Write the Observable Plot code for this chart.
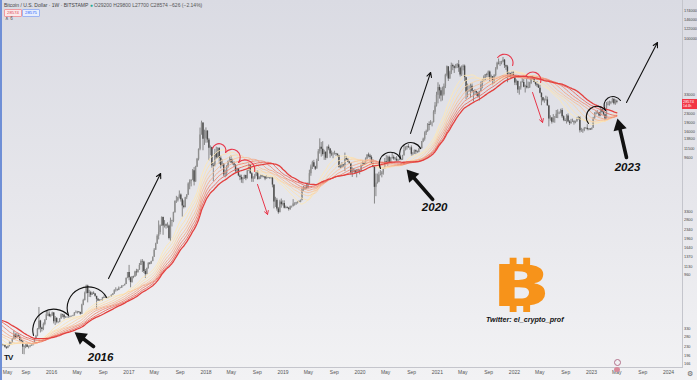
<!DOCTYPE html>
<html>
<head>
<meta charset="utf-8">
<script src="https://cdn.jsdelivr.net/npm/d3@7"></script>
<script src="https://cdn.jsdelivr.net/npm/@observablehq/plot@0.6"></script>
<style>
  html, body { margin: 0; padding: 0; background: #f1f1f3; }
  #wrap { position: relative; width: 697px; height: 380px; overflow: hidden;
          background: linear-gradient(180deg, #dadbe3 0%, #e6e6eb 50%, #f2f2f4 100%);
          font-family: "Liberation Sans", Arial, sans-serif; }
  #wrap::before { content: ""; position: absolute; left: 0; top: 0; bottom: 0; width: 2px; background: #6f8fd6; z-index: 5; }
  .ov { position: absolute; white-space: nowrap; line-height: 1; }
</style>
</head>
<body>
<div id="wrap"></div>
<script>
// ---------- DATA (weekly BTC/USD, Bitstamp, 1W) ----------
const weekStart = "2014-03-03";           // Monday of the first weekly close below
const closes = [
  // 2014
  635,630,585,460,445,420,495,440,435,440,445,530,625,650,590,590,585,635,625,620,595,590,590,500,505,480,
  477,477,410,402,320,378,390,355,325,375,385,375,378,375,350,330,318,275,
  // 2015
  270,210,255,228,220,235,245,275,275,285,260,245,255,223,222,218,234,242,237,240,229,225,233,243,250,270,
  292,275,288,280,262,255,230,228,240,230,232,235,240,245,268,285,325,385,335,325,360,390,435,440,420,430,
  // 2016
  450,380,405,375,375,400,435,430,410,410,410,415,420,420,425,450,450,460,455,440,525,575,660,765,660,670,
  640,665,655,625,590,570,580,575,610,605,608,600,612,615,640,655,700,705,700,730,735,765,770,790,890,1000,
  // 2017
  900,820,920,915,1010,995,1050,1150,1240,1230,1020,960,1080,1200,1180,1240,1350,1550,1750,2040,2200,2500,
  2950,2500,2550,2500,2500,1950,2750,2730,3250,4050,4100,4350,4600,4200,3700,3600,4350,4600,5700,6000,6150,
  7400,5950,8000,9300,11300,15000,19000,13800,13900,
  // 2018
  16200,13600,11550,11750,8200,8100,10400,9600,11500,9500,8200,8450,6850,7000,8000,8900,9250,8650,8500,8250,
  7350,7700,6700,6500,6200,6400,6750,6350,7400,8200,7000,6300,6400,6700,7250,6250,6500,6700,6600,6580,6300,
  6420,6400,6350,6400,5600,4000,4150,3500,3250,4000,3800,3900,
  // 2019
  3550,3600,3550,3450,3650,3650,3850,3850,3950,4000,3980,4150,5100,5100,5300,5250,5750,7000,8000,8700,8000,
  7650,8900,10800,11800,11300,10200,10700,9500,11800,11400,10300,10150,10300,10400,10300,10000,7950,7880,
  8300,8200,9550,9200,8800,8500,7050,7450,7500,7100,7500,7400,7350,
  // 2020
  8150,8700,8350,9350,10100,9900,9650,8500,7950,5350,5800,5900,6800,6900,7100,7700,8900,8750,9700,8700,9450,
  9650,9350,9300,9000,9100,9250,9150,9950,11050,11700,11900,11650,11650,10250,10350,11100,10750,10650,
  11300,11500,13100,13800,15500,16050,18400,18200,19150,19150,23500,26500,32800,
  // 2021
  38200,35800,32300,33100,38900,48600,57400,45200,51200,59000,57500,55800,58200,59800,56200,49000,56600,
  58200,46400,34700,35600,35800,39100,35500,34700,35300,34300,31800,35400,39900,43800,47000,49300,48900,
  51800,45100,47300,43200,48200,54900,61500,60900,61300,63300,65500,58700,57300,49400,50100,46700,50800,47300,
  // 2022
  41800,43100,36300,37900,42400,42200,38400,39100,38000,37800,41300,46800,46400,42200,40400,39500,37700,
  34100,31300,29400,29500,29900,26600,20600,21000,19300,20800,20800,22600,23300,23200,24300,21500,20000,
  19800,21800,19400,18800,19300,19400,19100,19600,20600,21300,16300,16300,16450,17100,17100,16750,16850,16550,
  // 2023
  17100,20900,22700,23000,23300,21800,24600,23500,22400,20600,26900,27500,28500,28300,30300,27800,29200,28574
];
// weekly highs / lows of the drawn candles (from the week of 2015-04-27 on)
const highs = [
  245,245,244,242,242,232,235,255,252,272,315,302,300,298,290,270,262,236,242,247,235,238,241,248,270,290,332,
  502,390,340,370,395,470,468,460,438,
  458,455,420,410,380,403,444,440,440,420,419,420,425,424,430,454,469,465,462,458,535,590,680,780,780,705,
  690,677,684,660,626,600,587,585,612,630,612,610,615,620,642,660,712,740,720,752,746,770,775,795,900,1000,
  1150,915,925,930,1025,1065,1055,1195,1280,1290,1250,1060,1090,1210,1215,1250,1355,1600,1780,2100,2760,2550,
  2990,2980,2780,2600,2660,2550,2920,2800,3280,4100,4480,4400,4980,4700,4300,4100,4400,4630,5850,6200,6200,
  7600,7900,8100,9450,11400,17200,19700,19000,16500,
  17250,16300,14000,12100,11800,8600,11300,11800,11700,11700,9900,9200,8500,7500,8200,9000,9750,9950,9300,
  8850,8400,7800,7750,6850,6800,6500,6800,6800,7500,8500,8250,7150,6600,6900,7350,7400,6600,6800,6800,6700,
  6650,6700,6550,6450,6550,6500,5600,4400,4300,3600,4150,4250,4100,
  4100,3700,3650,3600,3700,3700,4200,3950,3980,4050,4100,4150,5300,5450,5400,5650,5850,7500,8300,8950,9100,
  8100,9300,11250,13900,12950,13150,11100,10700,11900,12300,11500,10950,10650,10900,10450,10300,10050,8400,
  8700,8400,10500,9750,9450,8900,8500,7850,7750,7450,7600,7650,7500,
  8450,9000,8750,9550,10150,10500,10250,9950,9200,8200,6950,6950,7200,7450,7300,7800,9450,10000,9900,9900,
  9600,10400,9950,9600,9800,9300,9450,9350,10050,12100,11900,12050,12450,11800,12100,10600,11150,10800,10950,
  11450,11750,13200,14100,15950,16500,18800,19450,19900,19400,24200,28400,34800,
  41950,40100,37800,38500,40900,49700,58350,57500,52600,61800,60600,58400,60200,61200,64900,57500,58400,
  59600,59500,46600,40900,39500,41300,41000,36000,36600,35500,34600,35400,42600,44800,48100,49400,50500,
  52900,52900,48800,47300,49200,56500,62900,67000,63700,64000,69000,66300,59300,59000,51900,50600,52000,52100,
  47500,44400,43500,38900,42600,45800,44700,40000,45400,42500,42300,47000,48200,47200,42400,42900,40800,
  40000,34400,31400,30500,32200,31600,26900,21900,21200,22400,21600,24300,24600,23600,24900,25200,21900,
  20600,22400,22700,19900,20400,20500,19900,19700,21000,21500,21500,17100,16800,17400,17400,18400,17000,16950,
  17200,21200,23300,23900,24200,23400,25200,25100,23900,22600,28400,28900,29200,29000,31000,30500,30000,29800
];
const lows = [
  217,232,232,235,226,220,223,231,240,249,265,268,273,277,258,255,199,198,223,228,222,227,234,235,243,265,282,
  322,304,310,318,350,388,420,412,410,
  421,363,352,364,365,372,398,410,395,405,405,407,409,415,418,425,445,441,449,432,437,520,570,655,550,612,
  610,637,648,615,480,565,567,570,568,603,600,592,598,608,613,635,652,680,690,700,725,730,755,768,788,885,
  850,740,810,885,910,930,992,1045,1150,1000,980,890,955,1070,1160,1175,1235,1345,1550,1740,1900,2100,
  2480,2080,2400,2350,2390,1900,1840,2450,2670,3220,3900,4000,4250,4000,2980,3500,3570,4200,4550,5100,5400,
  6100,5500,5900,7900,9000,11000,15000,11000,12200,
  12750,12800,9000,10000,7800,6000,8000,9300,9400,8400,7700,8000,6600,6450,6600,7800,8700,8600,8300,7950,
  7050,7050,6600,6100,5800,5750,6250,6100,6300,7300,6900,5900,5900,6250,6600,6150,6200,6250,6450,6450,6100,
  6300,6350,6300,6300,5300,3500,3600,3350,3150,3250,3550,3700,
  3500,3500,3500,3350,3400,3550,3650,3700,3750,3850,3950,3950,4100,4950,5050,5150,5200,5650,6650,7600,7900,
  7450,7800,8900,10300,9700,9900,9100,9100,9400,11000,9500,9800,9400,10100,9850,9650,7800,7700,
  7750,7900,7300,9050,8700,8400,6800,6500,7100,6950,6450,7100,6850,
  7250,8050,8250,8550,9150,9550,9300,8450,7850,3850,4450,5700,5850,6700,6450,6800,7650,8600,8100,8650,8650,
  9300,9100,9000,8850,8900,9050,9050,9100,9900,10950,11150,11550,11100,9900,9900,10200,10150,10400,
  10550,11200,11350,12900,13300,14850,15800,16300,18200,17600,19000,22400,26000,
  27700,30400,28800,29300,32300,37400,47100,43000,44900,49300,53200,50400,55100,55500,51500,47000,47500,
  53000,43000,30000,31200,34800,31000,34800,28800,32700,32100,31000,29300,35200,37300,42800,43900,46300,
  46500,42800,44000,39600,40800,47100,53900,59500,57800,59700,62300,55600,53500,42000,46800,45500,45600,45700,
  39700,39600,34000,32900,36300,41600,38000,34300,37200,37200,37600,40500,44100,41900,39200,38200,37600,
  33700,26700,28700,28000,29300,26500,17600,19700,18600,19000,18900,20800,20700,22400,22700,20800,19500,
  19500,18600,19300,18100,18500,19200,18200,18700,19200,20100,15600,15800,15500,16000,16800,16300,16300,16400,
  16550,17100,20400,22300,22600,21400,21500,23100,21900,19600,20600,26600,26500,27200,28200,27100,26900,27700
];
// moving-average ribbon periods (weeks)
const maPeriods = [20, 25, 30, 35, 40, 45, 50, 55];
// price-scale labels (right axis) and time-axis labels
const priceTicks = [174000,146000,122000,100000,84000,70000,58000,48000,40000,33000,23000,19000,16000,13800,
  11500,9600,8000,6800,5600,4800,4000,3300,2800,2340,1960,1640,1370,1130,960,800,680,560,470,400,330,280,230,196,166];
const timeTicks = ["2015-05-01","2015-09-01","2016-01-01","2016-05-01","2016-09-01","2017-01-01","2017-05-01",
  "2017-09-01","2018-01-01","2018-05-01","2018-09-01","2019-01-01","2019-05-01","2019-09-01","2020-01-01",
  "2020-05-01","2020-09-01","2021-01-01","2021-05-01","2021-09-01","2022-01-01","2022-05-01","2022-09-01",
  "2023-01-01","2023-05-01","2023-09-01","2024-01-01"];
const timeTickLabels = ["May","Sep","2016","May","Sep","2017","May","Sep","2018","May","Sep","2019","May","Sep",
  "2020","May","Sep","2021","May","Sep","2022","May","Sep","2023","May","Sep","2024"];
const viewStart = "2015-05-04", viewEnd = "2024-03-07";
const priceDomain = [154, 212000];
// annotations: [decimal year, price, decimal year, price]
const upArrows = [[2016.737, 890, 2017.412, 7030], [2020.653, 15470, 2020.913, 51400], [2023.454, 28450, 2023.856, 92700]];
const downArrows = [[2018.669, 5663, 2018.799, 3137], [2022.235, 34640, 2022.365, 19190]];
const pointerArrows = [[2016.543, 233, 2016.297, 308], [2020.939, 4216, 2020.602, 7610], [2023.454, 9630, 2023.337, 20770]];
// arcs: [year1, price1, year2, price2, bend degrees]
const blackArcs = [[2015.765, 290, 2016.219, 430, 75], [2016.219, 430, 2016.711, 613, 85],
  [2020.264, 7760, 2020.524, 9450, 90], [2020.524, 9450, 2020.783, 11510, 88],
  [2022.961, 18820, 2023.182, 24300, 90], [2023.182, 24300, 2023.376, 29600, 90]];
const redArcs = [[2018.086, 11510, 2018.255, 10630, 90], [2018.255, 10630, 2018.423, 8730, 90],
  [2018.423, 8730, 2018.631, 7316, 70], [2021.782, 69000, 2021.976, 58940, 80], [2022.145, 47500, 2022.339, 42170, 85]];
const yearLabels = ["2016", "2020", "2023"];
const yearLabelAt = [[2016.634, 188], [2020.965, 3600], [2023.467, 7920]];
const symbolName = "Bitcoin / U.S. Dollar · 1W · BITSTAMP";
const credit = "Twitter: el_crypto_prof";

// ---------- BUILD ----------
const W = 697, H = 380, mR = 15, mB = 13;
const DAY = 864e5;
const t0 = new Date(weekStart + "T00:00:00Z");
const weeks = closes.map((c, i) => ({date: new Date(+t0 + i * 7 * DAY), close: c}));
const off = closes.length - highs.length;
const candles = highs.map((h, j) => ({
  date: weeks[off + j].date, open: closes[off + j - 1], close: closes[off + j], high: h, low: lows[j]
}));
const yd = (y) => { const yr = Math.floor(y); const a = Date.UTC(yr, 0, 1), b = Date.UTC(yr + 1, 0, 1); return new Date(a + (y - yr) * (b - a)); };
const labelByTime = new Map(timeTicks.map((t, i) => [+new Date(t), timeTickLabels[i]]));
const ribbonInterp = d3.interpolateRgb("#fde8b4", "#e3403e");
const ribbonColors = maPeriods.map((k, i) => ribbonInterp(Math.pow(i / (maPeriods.length - 1), 1.7)));

const xOpts = {type: "utc", domain: [new Date(viewStart), new Date(viewEnd)], label: null};
const yOpts = {type: "log", domain: priceDomain, label: null};
// same scales as the chart, used only to orient the filled arrow heads
const sx = Plot.scale({x: {...xOpts, range: [0, W - mR]}});
const sy = Plot.scale({y: {...yOpts, range: [H - mB, 0]}});

const arrowOpts = (extra) => Object.assign({
  x1: d => yd(d[0]), y1: d => d[1], x2: d => yd(d[2]), y2: d => d[3]
}, extra);

const headR = 5;
const pointerHeads = pointerArrows.map(a => {
  const ang = Math.atan2(sy.apply(a[3]) - sy.apply(a[1]), sx.apply(yd(a[2])) - sx.apply(yd(a[0])));
  const back = headR * 1.555;
  return Plot.dot([a], {x: d => yd(d[2]), y: d => d[3], symbol: "triangle", r: headR, fill: "#111", stroke: "none",
    rotate: ang * 180 / Math.PI + 90, dx: -Math.cos(ang) * back, dy: -Math.sin(ang) * back});
});

const marks = [
  Plot.frame({anchor: "bottom", stroke: "#c4c5cc"}),
  Plot.frame({anchor: "right", stroke: "#c4c5cc"}),
  Plot.axisX({ticks: timeTicks.slice(1).map(t => new Date(t)), tickFormat: d => labelByTime.get(+d), tickSize: 0,
    tickPadding: 3, fontSize: 5, fill: "#555", label: null}),
  Plot.text([timeTickLabels[0]], {x: () => new Date(timeTicks[0]), frameAnchor: "bottom", lineAnchor: "top",
    textAnchor: "start", dx: 3, dy: 3, fontSize: 5, fill: "#555"}),
  Plot.axisY({anchor: "right", ticks: priceTicks, tickFormat: d3.format("d"), tickSize: 0, tickPadding: 1.5,
    fontSize: 3.9, fill: "#444", label: null}),
  // candles
  Plot.ruleX(candles, {x: "date", y1: "low", y2: "high", stroke: "#707070", strokeWidth: 0.8, clip: true}),
  Plot.ruleX(candles, {x: "date", y1: "open", y2: "close", stroke: d => d.close >= d.open ? "#8e8e8e" : "#4a4a4a",
    strokeWidth: 1.4, clip: true}),
  // MA ribbon (fast first, slow red on top)
  ...maPeriods.map((k, i) => Plot.line(weeks, Plot.windowY({k, anchor: "end", reduce: "mean"},
    {x: "date", y: "close", stroke: ribbonColors[i], strokeWidth: i === maPeriods.length - 1 ? 1.3 : 0.9, clip: true}))),
  // annotations
  ...blackArcs.map(a => Plot.arrow([a], arrowOpts({bend: a[4], headLength: 0, stroke: "#111", strokeWidth: 1.1}))),
  ...redArcs.map(a => Plot.arrow([a], arrowOpts({bend: a[4], headLength: 0, stroke: "#e8364a", strokeWidth: 1.1}))),
  Plot.arrow(upArrows, arrowOpts({stroke: "#111", strokeWidth: 1.1, headLength: 7, headAngle: 55})),
  Plot.arrow(downArrows, arrowOpts({stroke: "#e8364a", strokeWidth: 1, headLength: 6, headAngle: 60})),
  Plot.arrow(pointerArrows, arrowOpts({stroke: "#111", strokeWidth: 3.6, headLength: 0, insetEnd: headR * 2})),
  ...pointerHeads,
  Plot.text(yearLabels, {x: (d, i) => yd(yearLabelAt[i][0]), y: (d, i) => yearLabelAt[i][1], text: d => d,
    fontSize: 11.5, fontWeight: "bold", fontStyle: "italic", fill: "#111"})
];

const plot = Plot.plot({
  width: W, height: H,
  marginLeft: 0, marginRight: mR, marginTop: 0, marginBottom: mB,
  style: {background: "transparent", color: "#555", fontFamily: "Liberation Sans, Arial, sans-serif", overflow: "visible"},
  x: xOpts,
  y: yOpts,
  marks
});
const wrap = document.getElementById("wrap");
wrap.appendChild(plot);

// ---------- overlays (TradingView legend, price tag, logo, credit) ----------
const last = candles[candles.length - 1];
const chg = last.close - last.open;
const fmt = d3.format("d");
function ov(html, style) { const d = document.createElement("div"); d.className = "ov"; d.innerHTML = html; d.style.cssText = style; wrap.appendChild(d); return d; }
ov(`${symbolName} <span style="color:#22ab94">●</span> <span style="color:#555">O${fmt(last.open)} H${fmt(last.high)} L${fmt(last.low)} C${fmt(last.close)} ${chg < 0 ? "−" : "+"}${fmt(Math.abs(chg))} (${chg < 0 ? "−" : "+"}${(Math.abs(chg) / last.open * 100).toFixed(2)}%)</span>`,
  "left:4px;top:3px;font-size:5px;color:#444;");
ov(`${fmt(last.close)}`, "left:4px;top:9px;font-size:4.3px;color:#e0464e;background:#fbe9ea;border:0.6px solid #ef9aa0;padding:1px 2px;border-radius:1px;");
ov(`${fmt(last.close + 1)}`, "left:22px;top:9px;font-size:4.3px;color:#2962ff;background:#e8eefc;border:0.6px solid #9db4f3;padding:1px 2px;border-radius:1px;");
ov("∧ 6", "left:5px;top:17px;font-size:4.5px;color:#555;");
const py = plot.scale("y").apply(last.close);
ov(`${fmt(last.close)}<br><span style="font-size:3.4px">1d 4h</span>`,
  `left:682px;top:${py - 3}px;width:15px;height:10px;background:#f23645;color:#fff;font-size:3.9px;padding:1px 0 0 1px;box-sizing:border-box;line-height:1.15;`);
ov("TV", "left:4px;top:354px;font-size:8px;font-weight:bold;color:#131722;letter-spacing:-1px;");
ov("⚙", "left:687px;top:370px;font-size:7px;color:#666;");
ov("", "left:614px;top:359px;width:5px;height:5px;border:0.8px solid #b2708a;border-radius:50%;");
ov("", "left:614px;top:367px;width:6px;height:5px;background:#d98a9a;border-radius:50%;");
ov("₿", "left:490px;top:258px;height:50px;font-size:60px;line-height:50px;font-weight:bold;color:#f7931a;font-family:'Noto Sans','Inter','DejaVu Sans',sans-serif;transform:scaleX(1.7);transform-origin:0 0;");
ov(credit, "left:486px;top:316px;font-size:7.2px;font-style:italic;font-weight:bold;color:#111;");
</script>
</body>
</html>
